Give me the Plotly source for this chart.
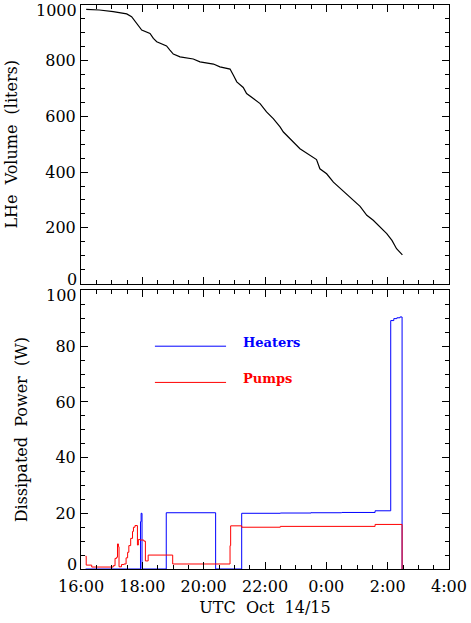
import plotly.graph_objects as go
from plotly.subplots import make_subplots

# hours since 16:00 UTC Oct 14 (24 = midnight)
vol_t = [16.17, 16.6, 17.05, 17.49, 17.65, 17.82, 17.98, 18.25, 18.36, 18.47, 18.79, 18.90,
         19.01, 19.23, 19.66, 19.88, 20.32, 20.53, 20.86, 20.97, 21.08, 21.29, 21.40, 21.62,
         21.84, 22.05, 22.27, 22.49, 22.60, 23.14, 23.68, 23.79, 24.01, 24.23, 24.77, 25.10,
         25.32, 25.53, 25.97, 26.14, 26.29, 26.48]
vol = [984, 982, 976, 968, 958, 934, 910, 898, 880, 868, 853, 838,
       824, 814, 806, 796, 788, 778, 770, 748, 724, 704, 682, 664,
       646, 616, 592, 562, 544, 484, 445, 412, 394, 364, 311, 277,
       245, 227, 179, 155, 125, 103]

heat_t = [16.15, 17.94, 17.96, 17.99, 18.78, 20.39, 21.24, 22.5, 23.5, 24.5, 25.59,
          26.10, 26.2, 26.3, 26.4, 26.47]
heat = [0, 17, 20, 0, 20.2, 0, 20.0, 20.1, 20.2, 20.3, 20.9,
        89.2, 89.9, 90.2, 90.5, 0]

pump_t = [16.15, 16.17, 16.35, 17.05, 17.11, 17.16, 17.19, 17.22, 17.24, 17.32, 17.40,
          17.47, 17.52, 17.56, 17.62, 17.68, 17.71, 17.76, 17.84, 17.87, 17.92, 18.05,
          18.10, 18.19, 18.99, 20.86, 20.88, 21.24, 22.5, 25.59, 26.47]
pump = [4.6, 1.4, 0.7, 1.2, 3.8, 4.2, 9.0, 8.0, 0.8, 1.6, 1.8,
        4.0, 6.0, 8.4, 11.0, 13.5, 15.0, 15.6, 8.6, 10.6, 10.4, 10.0,
        2.9, 5.0, 1.8, 8.4, 15.5, 15.0, 15.3, 16.0, 0]

tick_vals = [16, 18, 20, 22, 24, 26, 28]
tick_text = ["16:00", "18:00", "20:00", "22:00", "0:00", "2:00", "4:00"]
vol_ticks = [0, 200, 400, 600, 800, 1000]
pow_ticks = [0, 20, 40, 60, 80, 100]

FONT = "DejaVu Serif"
tfont = dict(family=FONT, size=16, color="black")

fig = make_subplots(rows=2, cols=1, shared_xaxes=True, vertical_spacing=0.0124)

fig.add_trace(go.Scatter(x=vol_t, y=vol, mode="lines",
                         line=dict(color="black", width=1.2), showlegend=False), row=1, col=1)
fig.add_trace(go.Scatter(x=heat_t, y=heat, mode="lines", line_shape="hv",
                         line=dict(color="#0000ff", width=1), showlegend=False), row=2, col=1)
fig.add_trace(go.Scatter(x=pump_t, y=pump, mode="lines", line_shape="hv",
                         line=dict(color="#ff0000", width=1), showlegend=False), row=2, col=1)

axis_common = dict(showline=True, linecolor="black", linewidth=1, mirror="ticks",
                   ticks="inside", ticklen=7, tickcolor="black", showgrid=False,
                   zeroline=False, tickfont=tfont, automargin=False)

fig.update_xaxes(range=[16, 28], tickvals=tick_vals, ticktext=tick_text,
                 minor=dict(dtick=0.5, ticklen=4, ticks="inside", tickcolor="black"),
                 ticklabelstandoff=3, **axis_common)
fig.update_xaxes(showticklabels=False, row=1, col=1)
fig.update_xaxes(title=dict(text="UTC&nbsp; Oct&nbsp; 14/15", font=dict(family=FONT, size=16, color="black"),
                            standoff=6), row=2, col=1)

# end labels of the y axes sit nudged inward (as annotations below)
fig.update_yaxes(range=[0, 1000], tickvals=vol_ticks,
                 ticktext=[""] + [str(v) for v in vol_ticks[1:-1]] + [""],
                 minor=dict(dtick=50, ticklen=4, ticks="inside", tickcolor="black"),
                 ticklabelstandoff=1,
                 title=dict(text="LHe&nbsp; Volume&nbsp; (liters)", font=dict(family=FONT, size=16, color="black"),
                            standoff=23),
                 row=1, col=1, **axis_common)
fig.update_yaxes(range=[0, 100], tickvals=pow_ticks,
                 ticktext=[""] + [str(v) for v in pow_ticks[1:-1]] + [""],
                 minor=dict(dtick=5, ticklen=4, ticks="inside", tickcolor="black"),
                 ticklabelstandoff=1,
                 title=dict(text="Dissipated&nbsp; Power&nbsp; (W)", font=dict(family=FONT, size=16, color="black"),
                            standoff=23),
                 row=2, col=1, **axis_common)

for yref, lo, hi in [("y", vol_ticks[0], vol_ticks[-1]), ("y2", pow_ticks[0], pow_ticks[-1])]:
    fig.add_annotation(x=0, xref="paper", xanchor="right", xshift=-2, y=lo, yref=yref,
                       yanchor="middle", yshift=4, height=13, text=str(lo),
                       showarrow=False, font=tfont)
    fig.add_annotation(x=0, xref="paper", xanchor="right", xshift=-2, y=hi, yref=yref,
                       yanchor="middle", yshift=-5, height=13, text=str(hi),
                       showarrow=False, font=tfont)

# legend drawn inside the lower panel
fig.add_shape(type="line", xref="x2", yref="y2", x0=18.41, x1=20.73, y0=80, y1=80,
              line=dict(color="#0000ff", width=1))
fig.add_shape(type="line", xref="x2", yref="y2", x0=18.41, x1=20.73, y0=67, y1=67,
              line=dict(color="#ff0000", width=1))
fig.add_annotation(x=21.22, y=81.5, xref="x2", yref="y2", text="<b>Heaters</b>", showarrow=False,
                   xanchor="left", font=dict(family=FONT, size=13, color="#0000ff"))
fig.add_annotation(x=21.22, y=68.5, xref="x2", yref="y2", text="<b>Pumps</b>", showarrow=False,
                   xanchor="left", font=dict(family=FONT, size=13, color="#ff0000"))

fig.update_layout(width=471, height=623, margin=dict(l=81, r=22, t=5, b=54),
                  plot_bgcolor="white", paper_bgcolor="white")

# drop the page's default body margin so the figure sits at the window corner
fig.write_html("out.html", config={"displayModeBar": False},
               post_script="document.body.style.margin='0';")
